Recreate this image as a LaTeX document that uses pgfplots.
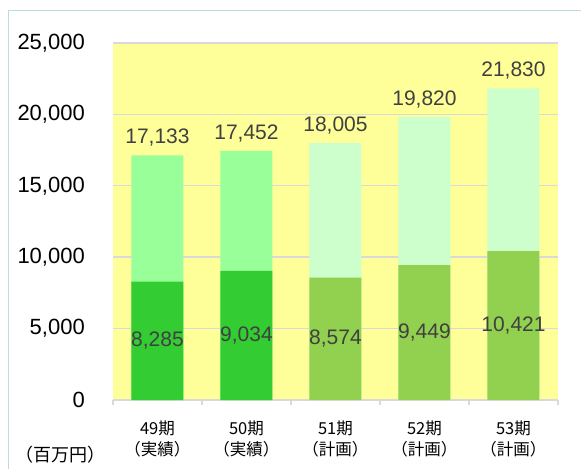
\documentclass[border=0pt]{standalone}
\usepackage{pgfplots}
\pgfplotsset{compat=1.18}
\usepackage{fontspec}
\setmainfont{Liberation Sans}
\newfontfamily\cjk{Noto Sans CJK JP}

\definecolor{plotbg}{HTML}{FFFF99}
\definecolor{gridc}{HTML}{D9D9D9}
\definecolor{frame}{HTML}{B7DEE2}
\definecolor{lbl}{HTML}{404040}
\definecolor{darkA}{HTML}{33CC33}
\definecolor{lightA}{HTML}{99FF99}
\definecolor{darkB}{HTML}{92D050}
\definecolor{lightB}{HTML}{CCFFCC}

\begin{document}
\begin{tikzpicture}
  \useasboundingbox (-113bp,-69bp) rectangle (468bp,400bp);
  \draw[frame, line width=1.6bp] (-104.5bp,-69bp) -- (-104.5bp,389.5bp) -- (468bp,389.5bp);
  \begin{axis}[
      at={(0,0)}, anchor=south west,
      scale only axis,
      width=445bp, height=357bp,
      xmin=-0.5, xmax=4.5,
      ymin=0, ymax=25000,
      scaled y ticks=false,
      ybar, bar width=52bp,
      axis background/.style={fill=plotbg},
      axis x line=bottom, axis y line=left,
      x axis line style={draw=gridc, line width=1.2bp, -},
      y axis line style={draw=none},
      ymajorgrids=true,
      major grid style={draw=gridc, line width=1.4bp},
      xtick={0,1,2,3,4},
      xticklabels={{49期\\（実績）},{50期\\（実績）},{51期\\（計画）},{52期\\（計画）},{53期\\（計画）}},
      minor xtick={-0.5,0.5,1.5,2.5,3.5,4.5},
      major tick length=0pt,
      minor tick length=5bp,
      tick align=outside,
      every minor tick/.append style={draw=gridc, line width=1.2bp},
      xticklabel style={font=\cjk\fontsize{16.5bp}{21bp}\selectfont, align=center,
        anchor=north, inner sep=0pt, yshift=-21bp},
      ytick={0,5000,10000,15000,20000,25000},
      yticklabels={{0\hspace{9bp}},{5,000},{10,000},{15,000},{20,000},{25,000}},
      yticklabel style={font=\fontsize{22bp}{26bp}\selectfont, anchor=east,
        inner sep=0pt, xshift=-28bp},
      /pgf/number format/assume math mode=true,
      /pgf/number format/1000 sep={,},
      clip=false,
    ]

    % totals (upper segment colour)
    \addplot[bar shift=0pt, fill=lightA, draw=none,
      nodes near coords,
      every node near coord/.append style={font=\fontsize{21bp}{25bp}\selectfont,
        text=lbl, anchor=south, inner sep=0pt, yshift=8.5bp}]
      coordinates {(0,17133) (1,17452)};
    \addplot[bar shift=0pt, fill=lightB, draw=none,
      nodes near coords,
      every node near coord/.append style={font=\fontsize{21bp}{25bp}\selectfont,
        text=lbl, anchor=south, inner sep=0pt, yshift=8.5bp}]
      coordinates {(2,18005) (3,19820) (4,21830)};

    % lower segment
    \addplot[bar shift=0pt, fill=darkA, draw=none,
      nodes near coords,
      visualization depends on=rawy \as \ry,
      every node near coord/.append style={font=\fontsize{21bp}{25bp}\selectfont,
        text=lbl, anchor=center, inner sep=0pt, yshift=-0.00714*\ry bp}]
      coordinates {(0,8285) (1,9034)};
    \addplot[bar shift=0pt, fill=darkB, draw=none,
      nodes near coords,
      visualization depends on=rawy \as \ry,
      every node near coord/.append style={font=\fontsize{21bp}{25bp}\selectfont,
        text=lbl, anchor=center, inner sep=0pt, yshift=-0.00714*\ry bp}]
      coordinates {(2,8574) (3,9449) (4,10421)};
  \end{axis}
  \node[font=\cjk\fontsize{18bp}{22bp}\selectfont, inner sep=0pt] at (-52bp,-55bp) {（百万円）};
\end{tikzpicture}
\end{document}
